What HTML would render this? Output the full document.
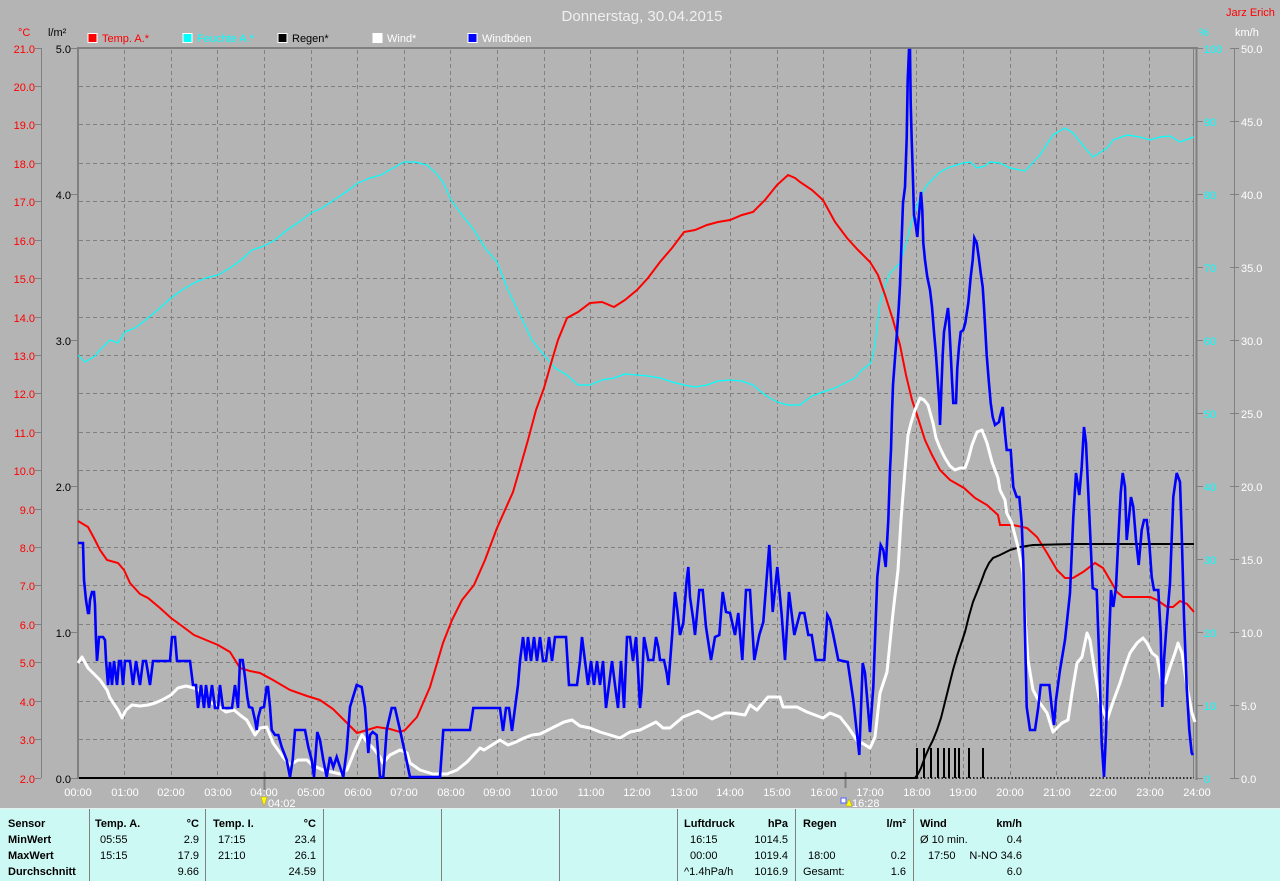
<!DOCTYPE html>
<html><head><meta charset="utf-8">
<style>
html,body{margin:0;padding:0;background:#b4b4b4;}
svg{display:block;}
text{font-family:"Liberation Sans",sans-serif;font-size:11px;}
.b{font-weight:bold;}
</style></head>
<body>
<svg width="1280" height="881" viewBox="0 0 1280 881" xmlns="http://www.w3.org/2000/svg">
<rect x="0" y="0" width="1280" height="881" fill="#b4b4b4"/>

<text x="642" y="21" text-anchor="middle" fill="#f0f0f0" style="font-size:15px">Donnerstag, 30.04.2015</text>
<text x="1226" y="16" fill="#ff0000">Jarz Erich</text>

<text x="18" y="36" fill="#ff0000">°C</text>
<text x="48" y="36" fill="#000">l/m²</text>
<text x="1199" y="36" fill="#00ffff">%</text>
<text x="1235" y="36" fill="#ffffff">km/h</text>

<rect x="88" y="33.5" width="9" height="9" fill="#ff0000" stroke="#fff" stroke-width="1"/>
<text x="102" y="42" fill="#ff0000">Temp. A.*</text>
<rect x="183" y="33.5" width="9" height="9" fill="#00ffff" stroke="#fff" stroke-width="1"/>
<text x="197" y="42" fill="#00ffff">Feuchte A.*</text>
<rect x="278" y="33.5" width="9" height="9" fill="#000" stroke="#fff" stroke-width="1"/>
<text x="292" y="42" fill="#000">Regen*</text>
<rect x="373" y="33.5" width="9" height="9" fill="#fff" stroke="#fff" stroke-width="1"/>
<text x="387" y="42" fill="#fff">Wind*</text>
<rect x="468" y="33.5" width="9" height="9" fill="#0000ff" stroke="#fff" stroke-width="1"/>
<text x="482" y="42" fill="#fff">Windböen</text>

<g stroke="#808080" stroke-width="1" stroke-dasharray="4,3" shape-rendering="crispEdges">
<line x1="79" x2="1193" y1="86.5" y2="86.5"/>
<line x1="79" x2="1193" y1="124.5" y2="124.5"/>
<line x1="79" x2="1193" y1="163.5" y2="163.5"/>
<line x1="79" x2="1193" y1="201.5" y2="201.5"/>
<line x1="79" x2="1193" y1="240.5" y2="240.5"/>
<line x1="79" x2="1193" y1="278.5" y2="278.5"/>
<line x1="79" x2="1193" y1="317.5" y2="317.5"/>
<line x1="79" x2="1193" y1="355.5" y2="355.5"/>
<line x1="79" x2="1193" y1="393.5" y2="393.5"/>
<line x1="79" x2="1193" y1="432.5" y2="432.5"/>
<line x1="79" x2="1193" y1="470.5" y2="470.5"/>
<line x1="79" x2="1193" y1="509.5" y2="509.5"/>
<line x1="79" x2="1193" y1="547.5" y2="547.5"/>
<line x1="79" x2="1193" y1="585.5" y2="585.5"/>
<line x1="79" x2="1193" y1="624.5" y2="624.5"/>
<line x1="79" x2="1193" y1="662.5" y2="662.5"/>
<line x1="79" x2="1193" y1="701.5" y2="701.5"/>
<line x1="79" x2="1193" y1="739.5" y2="739.5"/>
</g>
<g stroke="#808080" stroke-width="1" stroke-dasharray="4,3" shape-rendering="crispEdges">
<line y1="50" y2="778" x1="124.5" x2="124.5"/>
<line y1="50" y2="778" x1="171.5" x2="171.5"/>
<line y1="50" y2="778" x1="217.5" x2="217.5"/>
<line y1="50" y2="778" x1="264.5" x2="264.5"/>
<line y1="50" y2="778" x1="311.5" x2="311.5"/>
<line y1="50" y2="778" x1="357.5" x2="357.5"/>
<line y1="50" y2="778" x1="404.5" x2="404.5"/>
<line y1="50" y2="778" x1="450.5" x2="450.5"/>
<line y1="50" y2="778" x1="497.5" x2="497.5"/>
<line y1="50" y2="778" x1="544.5" x2="544.5"/>
<line y1="50" y2="778" x1="590.5" x2="590.5"/>
<line y1="50" y2="778" x1="637.5" x2="637.5"/>
<line y1="50" y2="778" x1="683.5" x2="683.5"/>
<line y1="50" y2="778" x1="730.5" x2="730.5"/>
<line y1="50" y2="778" x1="777.5" x2="777.5"/>
<line y1="50" y2="778" x1="823.5" x2="823.5"/>
<line y1="50" y2="778" x1="870.5" x2="870.5"/>
<line y1="50" y2="778" x1="916.5" x2="916.5"/>
<line y1="50" y2="778" x1="963.5" x2="963.5"/>
<line y1="50" y2="778" x1="1010.5" x2="1010.5"/>
<line y1="50" y2="778" x1="1056.5" x2="1056.5"/>
<line y1="50" y2="778" x1="1103.5" x2="1103.5"/>
<line y1="50" y2="778" x1="1149.5" x2="1149.5"/>
</g>

<g stroke="#808080" shape-rendering="crispEdges" fill="none">
<line x1="77" x2="1198" y1="48" y2="48" stroke-width="2"/>
<line x1="78" x2="78" y1="47" y2="779" stroke-width="2"/>
<line x1="1193.5" x2="1193.5" y1="48" y2="778" stroke-width="1"/>
<line x1="1196.5" x2="1196.5" y1="47" y2="780" stroke-width="2"/>
<line x1="41.5" x2="41.5" y1="48" y2="778" stroke-width="1"/>
<line x1="1234.5" x2="1234.5" y1="48" y2="778" stroke-width="1"/>
<line x1="264.5" x2="264.5" y1="772" y2="790" stroke-width="2"/>
<line x1="845.5" x2="845.5" y1="772" y2="788" stroke-width="2"/>
</g>

<g stroke="#808080" shape-rendering="crispEdges">
<line x1="35" x2="41" y1="48.5" y2="48.5"/><line x1="35" x2="41" y1="86.5" y2="86.5"/><line x1="35" x2="41" y1="124.5" y2="124.5"/><line x1="35" x2="41" y1="163.5" y2="163.5"/><line x1="35" x2="41" y1="201.5" y2="201.5"/><line x1="35" x2="41" y1="240.5" y2="240.5"/><line x1="35" x2="41" y1="278.5" y2="278.5"/><line x1="35" x2="41" y1="317.5" y2="317.5"/><line x1="35" x2="41" y1="355.5" y2="355.5"/><line x1="35" x2="41" y1="393.5" y2="393.5"/><line x1="35" x2="41" y1="432.5" y2="432.5"/><line x1="35" x2="41" y1="470.5" y2="470.5"/><line x1="35" x2="41" y1="509.5" y2="509.5"/><line x1="35" x2="41" y1="547.5" y2="547.5"/><line x1="35" x2="41" y1="585.5" y2="585.5"/><line x1="35" x2="41" y1="624.5" y2="624.5"/><line x1="35" x2="41" y1="662.5" y2="662.5"/><line x1="35" x2="41" y1="701.5" y2="701.5"/><line x1="35" x2="41" y1="739.5" y2="739.5"/><line x1="35" x2="41" y1="778.5" y2="778.5"/>
<line x1="71" x2="77" y1="48.5" y2="48.5"/><line x1="71" x2="77" y1="194.5" y2="194.5"/><line x1="71" x2="77" y1="340.5" y2="340.5"/><line x1="71" x2="77" y1="486.5" y2="486.5"/><line x1="71" x2="77" y1="632.5" y2="632.5"/><line x1="71" x2="77" y1="778.5" y2="778.5"/>
<line x1="1197" x2="1203" y1="48.5" y2="48.5"/><line x1="1197" x2="1203" y1="121.5" y2="121.5"/><line x1="1197" x2="1203" y1="194.5" y2="194.5"/><line x1="1197" x2="1203" y1="267.5" y2="267.5"/><line x1="1197" x2="1203" y1="340.5" y2="340.5"/><line x1="1197" x2="1203" y1="413.5" y2="413.5"/><line x1="1197" x2="1203" y1="486.5" y2="486.5"/><line x1="1197" x2="1203" y1="559.5" y2="559.5"/><line x1="1197" x2="1203" y1="632.5" y2="632.5"/><line x1="1197" x2="1203" y1="705.5" y2="705.5"/><line x1="1197" x2="1203" y1="778.5" y2="778.5"/>
<line x1="1230" x2="1239" y1="48.5" y2="48.5"/><line x1="1230" x2="1239" y1="121.5" y2="121.5"/><line x1="1230" x2="1239" y1="194.5" y2="194.5"/><line x1="1230" x2="1239" y1="267.5" y2="267.5"/><line x1="1230" x2="1239" y1="340.5" y2="340.5"/><line x1="1230" x2="1239" y1="413.5" y2="413.5"/><line x1="1230" x2="1239" y1="486.5" y2="486.5"/><line x1="1230" x2="1239" y1="559.5" y2="559.5"/><line x1="1230" x2="1239" y1="632.5" y2="632.5"/><line x1="1230" x2="1239" y1="705.5" y2="705.5"/><line x1="1230" x2="1239" y1="778.5" y2="778.5"/>
</g>
<g fill="#ff0000" text-anchor="end">
<text x="35" y="53">21.0</text><text x="35" y="91">20.0</text><text x="35" y="129">19.0</text><text x="35" y="168">18.0</text><text x="35" y="206">17.0</text><text x="35" y="245">16.0</text><text x="35" y="283">15.0</text><text x="35" y="322">14.0</text><text x="35" y="360">13.0</text><text x="35" y="398">12.0</text><text x="35" y="437">11.0</text><text x="35" y="475">10.0</text><text x="35" y="514">9.0</text><text x="35" y="552">8.0</text><text x="35" y="590">7.0</text><text x="35" y="629">6.0</text><text x="35" y="667">5.0</text><text x="35" y="706">4.0</text><text x="35" y="744">3.0</text><text x="35" y="783">2.0</text>
</g>
<g fill="#000" text-anchor="end">
<text x="71" y="53">5.0</text><text x="71" y="199">4.0</text><text x="71" y="345">3.0</text><text x="71" y="491">2.0</text><text x="71" y="637">1.0</text><text x="71" y="783">0.0</text>
</g>
<g fill="#00ffff">
<text x="1204" y="53">100</text><text x="1204" y="126">90</text><text x="1204" y="199">80</text><text x="1204" y="272">70</text><text x="1204" y="345">60</text><text x="1204" y="418">50</text><text x="1204" y="491">40</text><text x="1204" y="564">30</text><text x="1204" y="637">20</text><text x="1204" y="710">10</text><text x="1204" y="783">0</text>
</g>
<g fill="#ffffff">
<text x="1241" y="53">50.0</text><text x="1241" y="126">45.0</text><text x="1241" y="199">40.0</text><text x="1241" y="272">35.0</text><text x="1241" y="345">30.0</text><text x="1241" y="418">25.0</text><text x="1241" y="491">20.0</text><text x="1241" y="564">15.0</text><text x="1241" y="637">10.0</text><text x="1241" y="710">5.0</text><text x="1241" y="783">0.0</text>
</g>
<g fill="#ffffff" text-anchor="middle">
<text x="78" y="796">00:00</text><text x="125" y="796">01:00</text><text x="171" y="796">02:00</text><text x="218" y="796">03:00</text><text x="264" y="796">04:00</text><text x="311" y="796">05:00</text><text x="358" y="796">06:00</text><text x="404" y="796">07:00</text><text x="451" y="796">08:00</text><text x="497" y="796">09:00</text><text x="544" y="796">10:00</text><text x="591" y="796">11:00</text><text x="637" y="796">12:00</text><text x="684" y="796">13:00</text><text x="730" y="796">14:00</text><text x="777" y="796">15:00</text><text x="824" y="796">16:00</text><text x="870" y="796">17:00</text><text x="917" y="796">18:00</text><text x="963" y="796">19:00</text><text x="1010" y="796">20:00</text><text x="1057" y="796">21:00</text><text x="1103" y="796">22:00</text><text x="1150" y="796">23:00</text><text x="1197" y="796">24:00</text>
</g>
<polygon points="261,797 267,797 264,806" fill="#ffff00" stroke="#c0a000" stroke-width="0.5"/>
<text x="268" y="807" fill="#ffffff">04:02</text>
<rect x="841" y="798" width="5" height="5" fill="#ffffff" stroke="#5060ff" stroke-width="1"/>
<polygon points="846,806 852,806 849,799" fill="#ffff00" stroke="#c0a000" stroke-width="0.5"/>
<text x="852" y="807" fill="#ffffff">16:28</text>

<polyline fill="none" stroke="#00ffff" stroke-width="1.2" points="78,355 85,362 95,356 100,350 110,340 118,343 125,332 135,328 148,318 160,308 171,298 182,290 194,283 206,278 218,275 230,268 241,260 252,250 264,246 275,240 287,230 299,222 311,213 322,208 334,200 346,192 358,183 370,178 381,175 393,168 404,162 415,162 427,165 435,172 443,182 451,200 462,215 474,230 485,248 497,262 508,290 520,315 532,340 544,355 555,368 567,375 578,385 590,385 602,380 614,378 625,374 637,375 648,376 660,378 672,382 684,385 695,387 707,385 718,381 730,380 742,381 753,385 765,395 777,402 788,405 800,405 812,396 823,392 835,388 847,382 855,378 862,370 871,363 875,345 880,303 885,285 890,273 900,263 907,240 913,217 920,197 927,185 940,172 950,167 963,163 970,162 977,168 985,166 990,162 1000,163 1010,168 1025,171 1040,155 1053,135 1065,128 1073,133 1085,148 1093,157 1107,148 1113,140 1127,135 1140,137 1150,140 1160,137 1170,136 1180,142 1194,137"/>

<polyline fill="none" stroke="#ff0000" stroke-width="2" points="78,521 88,527 95,540 100,550 107,560 118,563 124,570 130,583 140,594 148,598 160,608 171,618 182,626 194,635 206,640 218,645 230,652 240,668 250,671 260,673 273,680 290,690 307,696 320,700 333,709 347,723 357,733 367,730 377,727 390,729 400,732 405,730 417,717 430,687 443,643 452,620 462,600 474,585 485,560 497,528 505,510 513,492 520,468 528,440 536,410 544,388 552,360 558,340 567,318 578,312 590,303 602,302 614,307 625,300 637,290 648,278 660,262 672,248 684,232 695,230 707,225 718,222 730,220 742,215 753,212 765,200 777,185 788,175 795,178 800,182 812,190 823,200 835,222 847,238 858,250 870,262 878,275 885,295 893,320 900,345 906,375 912,400 918,418 925,440 932,455 940,470 950,480 964,488 975,498 987,505 998,515 1000,525 1013,525 1027,528 1037,537 1047,553 1057,570 1065,578 1073,578 1083,572 1095,563 1103,568 1110,580 1117,592 1123,597 1133,597 1150,597 1157,600 1167,607 1173,607 1180,601 1187,604 1194,612"/>

<line x1="79" x2="917" y1="778" y2="778" stroke="#000" stroke-width="2"/>
<line x1="917" x2="1194" y1="778" y2="778" stroke="#000" stroke-width="1.5" stroke-dasharray="1.5,2"/>
<g stroke="#000" stroke-width="2" shape-rendering="crispEdges">
<line x1="917" x2="917" y1="748" y2="778"/><line x1="924" x2="924" y1="748" y2="778"/><line x1="931" x2="931" y1="748" y2="778"/><line x1="938" x2="938" y1="748" y2="778"/><line x1="944" x2="944" y1="748" y2="778"/><line x1="949" x2="949" y1="748" y2="778"/><line x1="955" x2="955" y1="748" y2="778"/><line x1="959" x2="959" y1="748" y2="778"/><line x1="969" x2="969" y1="748" y2="778"/><line x1="983" x2="983" y1="748" y2="778"/>
</g>
<polyline fill="none" stroke="#000" stroke-width="2" points="915,778 918,774 921,768 925,757 929,748 933,740 937,730 941,718 945,702 949,686 953,670 957,656 961,644 965,632 969,616 973,602 977,592 981,582 985,571 989,563 993,558 1000,555 1010,550 1020,547 1033,545 1073,544 1194,544"/>

<polyline fill="none" stroke="#ffffff" stroke-width="3" stroke-linejoin="round" points="78,663 82,657 88,668 95,675 100,680 107,690 110,698 118,710 122,718 126,710 132,705 140,706 148,705 155,703 162,700 171,695 178,688 186,686 194,688 202,692 210,702 218,706 226,712 234,710 240,715 246.7,720 255,735 260,728 266.7,727 273,743 283,757 290,765 298,760 307,760 312,765 323,770 340,774 347,770 355,750 362,735 367,742 373,748 380,757 383,763 390,755 400,750 407,753 410,763 420,770 433,774 447,774 457,770 467,762 480,748 484,750 492,745 500,740 508,745 516,742 524,738 532,735 540,734 548,730 556,726 564,722 572,720 580,726 590,728 600,732 610,735 620,738 630,732 640,730 648,726 656,722 663,728 670,728 683,717 698,711 712,719 725,713 732,713 745,715 750,705 757,710 768,697 780,697 783,707 797,707 807,712 823,718 830,713 840,717 848,727 858,742 862,743 870,748 875,737 880,693 887,672 893,613 898,570 901,520 905,470 908,435 911,423 915,410 920,398 924,400 928,405 933,423 936,438 940,448 945,458 950,466 955,470 960,468 965,468 968,460 972,445 977,432 982,430 987,443 992,462 998,478 1000,490 1005,500 1006.7,513 1011.7,523 1018,547 1023,573 1025,617 1028,660 1033,690 1040,703 1047,713 1053,732 1062,723 1068,720 1072,693 1077,663 1082,657 1087,633 1090,640 1095,673 1100,703 1107,720 1113,702 1120,683 1125,667 1130,653 1137,643 1143,638 1147,643 1152,653 1157,657 1162,683 1165,683 1170,667 1175,653 1178,643 1182,653 1187,687 1192,713 1195,722"/>

<polyline fill="none" stroke="#0000ff" stroke-width="2.6" points="78,543 83,543 84,580 86,600 88,613 89,613 90,600 92,592 94,592 95,605 96,640 97,661 98,650 99,637 103,637 105,640 106,660 108,685 110,662 112,685 114,661 117,685 119,661 121,661 123,685 125,661 130,661 133,685 136,661 140,685 143,661 146,661 150,685 153,661 160,661 166,661 170,661 172,637 175,637 177,661 182,661 188,661 190,661 193,685 196,685 198,708 201,685 204,708 206,685 209,708 212,685 215,708 218,708 220,685 223,708 226,708 232,708 235,685 238,708 240,660 242.7,660 245,677 247.3,697 249,707 252.3,708 255,720 256.7,730 258.3,717 260.7,708 264,707 266.7,687 268,687 270,707 271.7,730 275,735 278.3,735 281.7,747 286.7,760 290,777 292.7,760 295,730 305,730 308.3,747 311.7,760 314,777 317.3,732 320,740 323.3,760 326.7,777 330,757 333.3,767 336.7,757 340,767 343.3,777 346.7,750 350,707 356.7,685 361.7,687 365,707 368.3,753 370,735 372.7,732 376.7,735 380,777 383.3,777 386.7,730 391.7,708 395,708 400,730 405,753 410,777 440,777 443.3,730 470,730 473.3,708 500,708 503,731 506,708 509,708 512,731 515,708 518,685 520,661 523,637 526,661 528,637 531,661 534,637 537,661 540,637 543,661 546,661 549,637 552,661 555,637 560,637 566,637 569,685 572,685 577,685 580,661 582,637 585,661 588,685 591,661 594,685 597,661 600,685 603,661 606,708 609,685 612,661 615,685 618,708 621,661 624,708 627,637 630,637 633,661 636,637 638,670 640,708 641.7,690 644,637 646,647 648.3,660 653.3,660 656,637 658.3,647 660,660 664,660 666.7,673 668.3,685 670,663 672.3,633 675,592 677.3,610 680,635 683.3,623 686.7,580 688.3,567 690,597 693.3,620 695,635 699.3,590 702.7,590 706,627 711,660 715,637 719.3,635 722.7,592 726,612 730,613 735,635 738.3,613 742.3,660 746,590 750,590 754.3,660 759.3,635 763.3,622 766.7,578 769.3,545 772.7,612 777.3,567 781.7,615 785,660 789,592 794.3,635 800,613 804.3,613 808.3,635 811.7,635 815.7,660 824.3,660 827.3,615 830,620 833.3,635 838.3,660 847.7,662 853.3,700 859.3,755 862.7,663 865,673 870,732 873.3,687 877.3,577 880.7,545 883.3,550 885.7,567 888.3,520 890,470 891,450 892,413 893,385 895,358 897,332 898.7,308 900,285 901.7,238 903,203 905,187 906.7,138 907.7,80 909,50 910,50 910.7,103 911.7,140 912.7,170 914,215 916,227 917.3,237 918.3,223 920,203 921,192 922.3,210 923.3,243 925,260 927.3,277 930,290 932,307 934,332 936,355 937.7,380 939.3,403 940,425 941.7,380 942.7,355 944,332 946,320 948,308 949,320 950.7,353 952,380 953.3,403 956,403 957.3,368 959,347 960.7,332 963.3,330 965.3,323 968.3,303 970.7,277 972.7,260 974.3,238 976.7,243 978.7,257 980.7,273 982.7,287 984,307 985.3,330 986.7,355 988.7,380 990.7,403 992.7,417 995,425 999,422 1000,417 1002.7,407 1005,433 1006.7,450 1010.7,450 1013.3,487 1016.7,497 1019.3,497 1021.7,523 1023.3,563 1025,633 1026.7,707 1030,730 1035,730 1038.3,707 1040.7,685 1049.3,685 1051.7,707 1054,725 1056,700 1060,670 1065,640 1070,593 1073.3,517 1076,473 1079.3,495 1081.7,467 1084,427 1086,443 1088.3,493 1092.7,588 1096.7,590 1099,653 1101.7,743 1104,777 1106,733 1108.3,660 1111,590 1113.3,607 1116,587 1118.3,540 1120.7,493 1122.7,473 1125,487 1126.7,540 1129,517 1131,497 1133.3,507 1136,540 1138.7,565 1141.7,530 1144,520 1146.7,520 1149.3,543 1151.7,577 1154,590 1158.3,590 1160.7,633 1162.3,707 1164,660 1166.7,623 1170,583 1173.3,497 1176.7,473 1180,482 1181.7,533 1184,617 1186.7,687 1189.3,730 1191.7,753 1193,755"/>

<rect x="0" y="808" width="1280" height="73" fill="#cdf9f5"/>
<line x1="0" x2="1280" y1="808.5" y2="808.5" stroke="#e6f0ee" stroke-width="1"/>
<g stroke="#808080" stroke-width="1" shape-rendering="crispEdges">
<line x1="89.5" x2="89.5" y1="809" y2="881"/><line x1="205.5" x2="205.5" y1="809" y2="881"/><line x1="323.5" x2="323.5" y1="809" y2="881"/><line x1="441.5" x2="441.5" y1="809" y2="881"/><line x1="559.5" x2="559.5" y1="809" y2="881"/><line x1="677.5" x2="677.5" y1="809" y2="881"/><line x1="795.5" x2="795.5" y1="809" y2="881"/><line x1="913.5" x2="913.5" y1="809" y2="881"/>
</g>
<g fill="#000">
<text class="b" x="8" y="827">Sensor</text>
<text class="b" x="8" y="843">MinWert</text>
<text class="b" x="8" y="859">MaxWert</text>
<text class="b" x="8" y="875">Durchschnitt</text>

<text class="b" x="95" y="827">Temp. A.</text>
<text class="b" x="199" y="827" text-anchor="end">°C</text>
<text x="100" y="843">05:55</text><text x="199" y="843" text-anchor="end">2.9</text>
<text x="100" y="859">15:15</text><text x="199" y="859" text-anchor="end">17.9</text>
<text x="199" y="875" text-anchor="end">9.66</text>

<text class="b" x="213" y="827">Temp. I.</text>
<text class="b" x="316" y="827" text-anchor="end">°C</text>
<text x="218" y="843">17:15</text><text x="316" y="843" text-anchor="end">23.4</text>
<text x="218" y="859">21:10</text><text x="316" y="859" text-anchor="end">26.1</text>
<text x="316" y="875" text-anchor="end">24.59</text>

<text class="b" x="684" y="827">Luftdruck</text>
<text class="b" x="788" y="827" text-anchor="end">hPa</text>
<text x="690" y="843">16:15</text><text x="788" y="843" text-anchor="end">1014.5</text>
<text x="690" y="859">00:00</text><text x="788" y="859" text-anchor="end">1019.4</text>
<text x="684" y="875">^1.4hPa/h</text><text x="788" y="875" text-anchor="end">1016.9</text>

<text class="b" x="803" y="827">Regen</text>
<text class="b" x="906" y="827" text-anchor="end">l/m²</text>
<text x="808" y="859">18:00</text><text x="906" y="859" text-anchor="end">0.2</text>
<text x="803" y="875">Gesamt:</text><text x="906" y="875" text-anchor="end">1.6</text>

<text class="b" x="920" y="827">Wind</text>
<text class="b" x="1022" y="827" text-anchor="end">km/h</text>
<text x="920" y="843">Ø 10 min.</text><text x="1022" y="843" text-anchor="end">0.4</text>
<text x="928" y="859">17:50</text><text x="1022" y="859" text-anchor="end">N-NO 34.6</text>
<text x="1022" y="875" text-anchor="end">6.0</text>
</g>
</svg>
</body></html>
